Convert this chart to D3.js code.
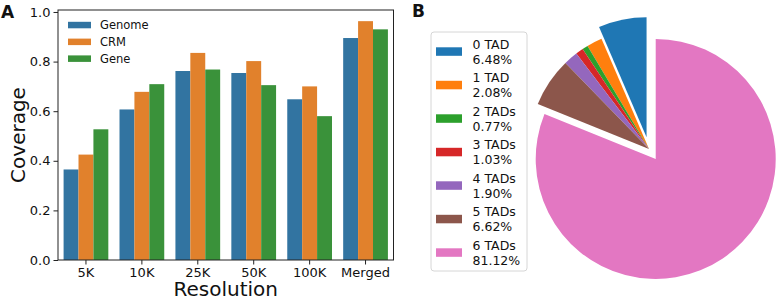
<html>
<head>
<script src="https://d3js.org/d3.v7.min.js"></script>
<style>
  body { margin: 0; background: #fff; }
  svg text { font-family: "DejaVu Sans", sans-serif; fill: #111; }
</style>
</head>
<body>
<svg id="svg" width="778" height="301"></svg>
<script>
// ---- data ----
var resolutions = ["5K", "10K", "25K", "50K", "100K", "Merged"];
var seriesNames = ["Genome", "CRM", "Gene"];
var genome = [0.365, 0.607, 0.762, 0.754, 0.648, 0.895];
var crm    = [0.425, 0.678, 0.835, 0.802, 0.700, 0.963];
var gene   = [0.527, 0.709, 0.768, 0.705, 0.580, 0.930];
var yTicks = [0.0, 0.2, 0.4, 0.6, 0.8, 1.0];

var tadLabels = ["0 TAD", "1 TAD", "2 TADs", "3 TADs", "4 TADs", "5 TADs", "6 TADs"];
var tadPct = [6.48, 2.08, 0.77, 1.03, 1.90, 6.62, 81.12];
var explode = [0.1, 0, 0, 0, 0, 0, 0.1];

var barColors = ["#3274a1", "#e1812c", "#3a923a"];
var pieColors = ["#1f77b4", "#ff7f0e", "#2ca02c", "#d62728", "#9467bd", "#8c564b", "#e377c2"];

var svg = d3.select("svg");

// ---- panel A: grouped bars ----
var ax = {left: 58, right: 393.5, top: 10, bottom: 260};
var seriesVals = [genome, crm, gene];

var x0 = d3.scaleBand().domain(resolutions).range([ax.left, ax.right])
           .paddingInner(0.2).paddingOuter(0.1);
var x1 = d3.scaleBand().domain(seriesNames).range([0, x0.bandwidth()]);
var y = d3.scaleLinear().domain([0, 1.008]).range([ax.bottom, ax.top]);

var rows = [];
resolutions.forEach(function(r, i) {
  seriesNames.forEach(function(s, j) {
    rows.push({res: r, s: s, j: j, v: seriesVals[j][i]});
  });
});

svg.append("g").selectAll("rect").data(rows).enter().append("rect")
  .attr("x", function(d) { return x0(d.res) + x1(d.s); })
  .attr("y", function(d) { return y(d.v); })
  .attr("width", x1.bandwidth())
  .attr("height", function(d) { return ax.bottom - y(d.v); })
  .attr("fill", function(d) { return barColors[d.j]; });

// axes
var yAxis = svg.append("g").attr("transform", "translate(" + ax.left + ",0)")
  .call(d3.axisLeft(y).tickValues(yTicks).tickFormat(d3.format(".1f")).tickSize(4.5).tickPadding(3));
var xAxis = svg.append("g").attr("transform", "translate(0," + ax.bottom + ")")
  .call(d3.axisBottom(x0).tickSize(4.5).tickPadding(3));
[yAxis, xAxis].forEach(function(g) {
  g.select(".domain").remove();
  g.selectAll("line").attr("stroke", "#222");
  g.selectAll("text").style("font-size", "13px").attr("fill", "#111");
});

// spines
svg.append("rect").attr("x", ax.left).attr("y", ax.top)
  .attr("width", ax.right - ax.left).attr("height", ax.bottom - ax.top)
  .attr("fill", "none").attr("stroke", "#222").attr("stroke-width", 1);

svg.append("text").attr("transform", "translate(25," + (ax.top + ax.bottom) / 2 + ") rotate(-90)")
  .attr("text-anchor", "middle").style("font-size", "20px").text("Coverage");
svg.append("text").attr("x", (ax.left + ax.right) / 2).attr("y", 296)
  .attr("text-anchor", "middle").style("font-size", "20px").text("Resolution");

// legend A
var legA = svg.append("g");
seriesNames.forEach(function(s, j) {
  var cy = 25 + j * 16.8;
  legA.append("rect").attr("x", 68).attr("y", cy - 3.2).attr("width", 23).attr("height", 6.5)
    .attr("fill", barColors[j]);
  legA.append("text").attr("x", 100).attr("y", cy + 4.2).style("font-size", "11.5px").text(s);
});

svg.append("text").attr("x", 1).attr("y", 18).style("font-size", "17px")
  .style("font-weight", "bold").text("A");

// ---- panel B: pie ----
svg.append("text").attr("x", 412).attr("y", 17).style("font-size", "17px")
  .style("font-weight", "bold").text("B");

var pc = {x: 649, y: 149}, R = 120;
var pie = d3.pie().sort(null).startAngle(0).endAngle(-2 * Math.PI);
var arc = d3.arc().innerRadius(0).outerRadius(R);
var arcs = pie(tadPct);

svg.append("g").attr("transform", "translate(" + pc.x + "," + pc.y + ")")
  .selectAll("path").data(arcs).enter().append("path")
  .attr("transform", function(d, i) {
    var mid = (d.startAngle + d.endAngle) / 2;
    var off = explode[i] * R;
    return "translate(" + (Math.sin(mid) * off) + "," + (-Math.cos(mid) * off) + ")";
  })
  .attr("d", arc)
  .attr("fill", function(d, i) { return pieColors[i]; });

// legend B
var legB = svg.append("g");
legB.append("rect").attr("x", 431).attr("y", 32).attr("width", 96).attr("height", 239)
  .attr("rx", 3).attr("fill", "#fff").attr("stroke", "#d6d6d6").attr("stroke-width", 1);
tadLabels.forEach(function(lab, i) {
  var cy = 51.5 + i * 33.5;
  legB.append("rect").attr("x", 436).attr("y", cy - 4.2).attr("width", 26).attr("height", 8.5)
    .attr("fill", pieColors[i]);
  legB.append("text").attr("x", 472.5).attr("y", cy - 3).style("font-size", "12.5px").text(lab);
  legB.append("text").attr("x", 472.5).attr("y", cy + 12).style("font-size", "12.5px")
    .text(tadPct[i].toFixed(2) + "%");
});
</script>
</body>
</html>
